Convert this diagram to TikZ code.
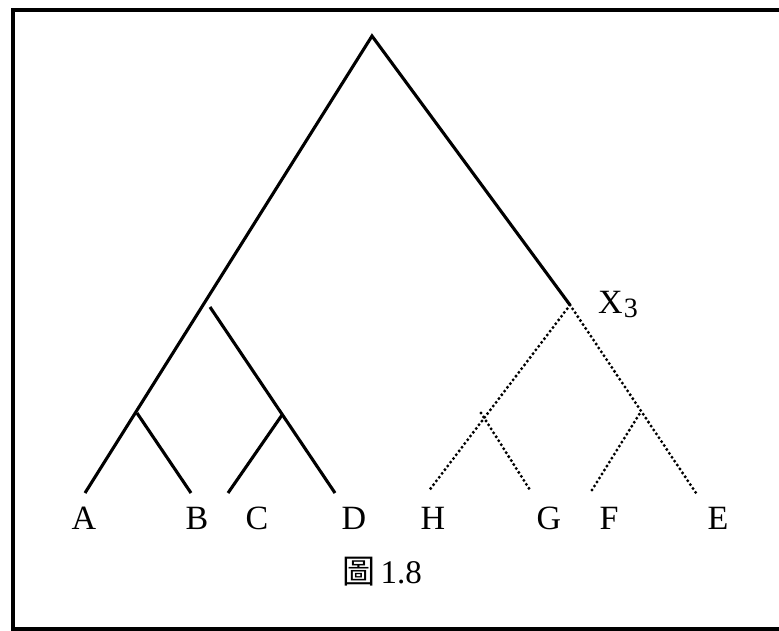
\documentclass[tikz,border=0pt]{standalone}
\usepackage{fontspec}
\setmainfont{Liberation Serif}
\newfontfamily\cjk{Noto Sans CJK TC}
\tikzset{
  solidedge/.style={line width=3.1pt},
  dotedge/.style={line width=3.3pt, line cap=round, dash pattern=on 0pt off 4.7pt},
  leaflabel/.style={anchor=base, inner sep=0pt, font=\fontsize{34}{34}\selectfont},
}
\begin{document}
\begin{tikzpicture}[x=1pt,y=-1pt]
\useasboundingbox (0,0) rectangle (779,631);
\draw[line width=3.2pt] (13,10) rectangle (800,629);
% coordinates
\coordinate (root) at (372,36);
\coordinate (a) at (85,493);
\coordinate (b1) at (137,413);
\coordinate (b) at (191,493);
\coordinate (b2) at (210,307);
\coordinate (d) at (335,493);
\coordinate (c1) at (282,415);
\coordinate (c) at (228,493);
\coordinate (x3) at (570,305);
\coordinate (h) at (428,492);
\coordinate (g1) at (481,413);
\coordinate (g) at (530,490);
\coordinate (e) at (696,493);
\coordinate (f1) at (640,413);
\coordinate (f) at (592,490);
% solid edges
\draw[solidedge] (a) -- (root) -- (x3);
\draw[solidedge] (b1) -- (b);
\draw[solidedge] (b2) -- (d);
\draw[solidedge] (c) -- (c1);
% dotted edges
\draw[dotedge] (x3) -- (h);
\draw[dotedge] (x3) -- (e);
\draw[dotedge] (g1) -- (g);
\draw[dotedge] (f) -- (f1);
% labels
\node[leaflabel] (la) at (84,529) {A};
\node[leaflabel] (lb) at (197,529) {B};
\node[leaflabel] (lc) at (257,529) {C};
\node[leaflabel] (ld) at (354,529) {D};
\node[leaflabel] (lh) at (433,529) {H};
\node[leaflabel] (lg) at (549,529) {G};
\node[leaflabel] (lf) at (609,529) {F};
\node[leaflabel] (le) at (718,529) {E};
\node[anchor=base west, inner sep=0pt, font=\fontsize{34}{34}\selectfont] (lx3) at (598,313) {X\kern1pt\raisebox{-4pt}{\fontsize{28}{28}\selectfont 3}};
\node[anchor=base west, inner sep=0pt, font=\fontsize{33}{33}\selectfont] (cap) at (342,583) {{\cjk 圖}\,1.8};
\end{tikzpicture}
\end{document}
